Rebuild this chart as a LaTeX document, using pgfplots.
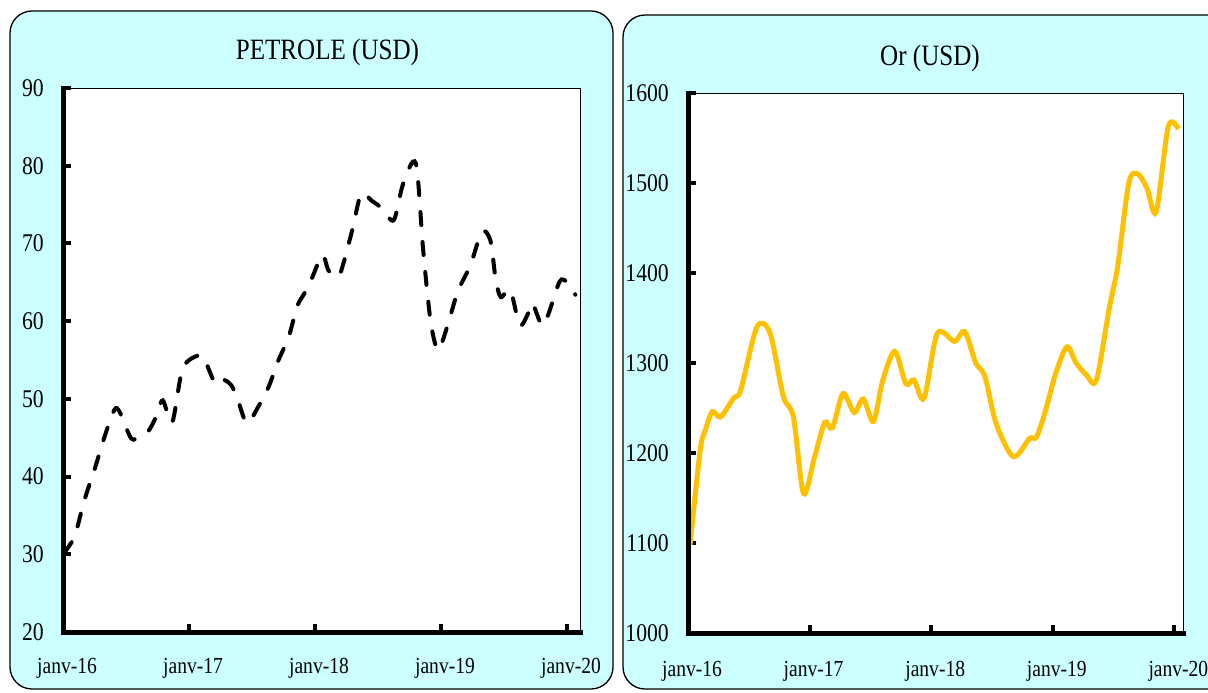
\documentclass[border=0pt]{standalone}
\usepackage{fontspec}
\setmainfont{Liberation Serif}[FakeStretch=0.85]
\usepackage{pgfplots}
\pgfplotsset{compat=1.18}
\definecolor{panelcyan}{RGB}{204,255,255}
\definecolor{gold}{RGB}{255,192,0}
\begin{document}
\begin{tikzpicture}
\useasboundingbox (0pt,0pt) rectangle (1208pt,-693pt);
% panels
\draw[fill=panelcyan,line width=1.3pt,rounded corners=22pt] (10pt,-11pt) rectangle (613pt,-689pt);
\draw[fill=panelcyan,line width=1.3pt,rounded corners=22pt] (623pt,-15pt) rectangle (1240pt,-689pt);
\pgfplotsset{
  panel/.style={
    scale only axis,
    axis background/.style={fill=white},
    axis line style={line width=1pt,black},
    xmin=0,
    xtick={0,12,24,36,48},
    xticklabels={janv-16,janv-17,janv-18,janv-19,janv-20},
    xtick pos=bottom, ytick pos=left,
    tick align=inside,
    major tick length=8pt,
    tick style={line width=4pt,black},
    /pgf/number format/assume math mode=true,
    /pgf/number format/set thousands separator={},
    yticklabel style={font=\fontsize{25.5}{30}\selectfont,anchor=east,inner sep=0pt,xshift=-19pt},
    xticklabel style={font=\fontsize{23}{28}\selectfont,anchor=base,inner sep=0pt,xshift=4pt},
    clip=false,
  }
}
\begin{axis}[panel,
  at={(63pt,-632pt)}, anchor=south west,
  width=517pt, height=544pt,
  xticklabel style={yshift=-41.5pt},
  xmax=49.24, ymin=20, ymax=90, ytick={20,30,...,90}]
\addplot[black, line width=4pt, dash pattern=on 13pt off 17pt, line cap=round, smooth, tension=0.5] coordinates {
(0.1,30.2) (1.1,32.3) (2.0,36.8) (3.0,40.9) (4.0,45.3) (4.9,48.6) (5.4,48.3)
(6.5,44.9) (7.3,45.2) (8.1,45.8) (8.8,47.5) (9.5,49.8) (10.4,47.0) (11.4,53.9)
(12.9,55.6) (13.5,55.0) (14.5,52.0) (15.2,52.5) (16.0,51.8) (16.6,50.1) (17.5,46.9)
(18.6,49.0) (19.6,51.6) (20.5,54.9) (21.5,58.0) (22.3,61.9) (23.0,63.6) (23.7,65.5)
(24.7,68.5) (25.3,66.5) (26.2,65.7) (26.7,67.4) (27.6,72.0) (28.4,76.4) (29.4,75.5)
(30.4,74.5) (31.5,73.0) (32.4,77.7) (33.6,80.3) (34.3,69.2) (35.0,60.1) (35.7,56.3)
(36.5,58.9) (37.6,63.8) (38.8,67.2) (39.9,71.5) (40.7,70.4) (41.2,65.5) (41.7,63.1)
(42.6,64.0) (43.5,59.5) (44.3,61.0) (44.7,62.3) (45.6,59.5) (46.2,60.8) (47.3,65.1)
(48.0,65.0) (48.8,63.4)
};
\draw[line width=5pt,black,line cap=rect] (rel axis cs:0,1) -- (rel axis cs:0,0) -- (rel axis cs:1,0);
\end{axis}
\node[font=\fontsize{29.5}{36}\selectfont, anchor=base] at (327.5pt,-59.5pt) {PETROLE (USD)};
\begin{axis}[panel,
  at={(688pt,-633pt)}, anchor=south west,
  width=495pt, height=540pt,
  xticklabel style={yshift=-43.5pt},
  xmax=48.85, ymin=1000, ymax=1600, ytick={1000,1100,...,1600}]
\addplot[gold, line width=5pt, smooth, tension=0.5] coordinates {
(0.2,1098) (1.2,1203) (1.7,1225) (2.4,1246) (3.2,1240) (4.5,1261) (5.2,1270)
(6.8,1340) (8.1,1333) (9.4,1263) (10.4,1240) (11.4,1155) (12.5,1196) (13.5,1234)
(14.25,1228) (15.3,1266) (16.4,1245) (17.3,1260) (18.3,1235) (19.2,1280) (20.4,1313)
(21.5,1277) (22.3,1281) (23.3,1261) (24.6,1333) (26.3,1324) (27.3,1335) (28.4,1300)
(29.3,1285) (30.4,1233) (32.1,1196) (33.7,1216) (34.4,1218) (35.3,1248) (36.3,1289)
(37.4,1318) (38.3,1300) (39.3,1287) (40.3,1281) (41.6,1363) (42.4,1407) (43.5,1500)
(44.4,1510) (45.3,1494) (46.2,1468) (47.4,1563) (48.4,1560)
};
\draw[line width=5pt,black,line cap=rect] (rel axis cs:0,1) -- (rel axis cs:0,0) -- (rel axis cs:1,0);
\end{axis}
\node[font=\fontsize{29.5}{36}\selectfont, anchor=base] at (930pt,-66pt) {Or (USD)};
\end{tikzpicture}
\end{document}
